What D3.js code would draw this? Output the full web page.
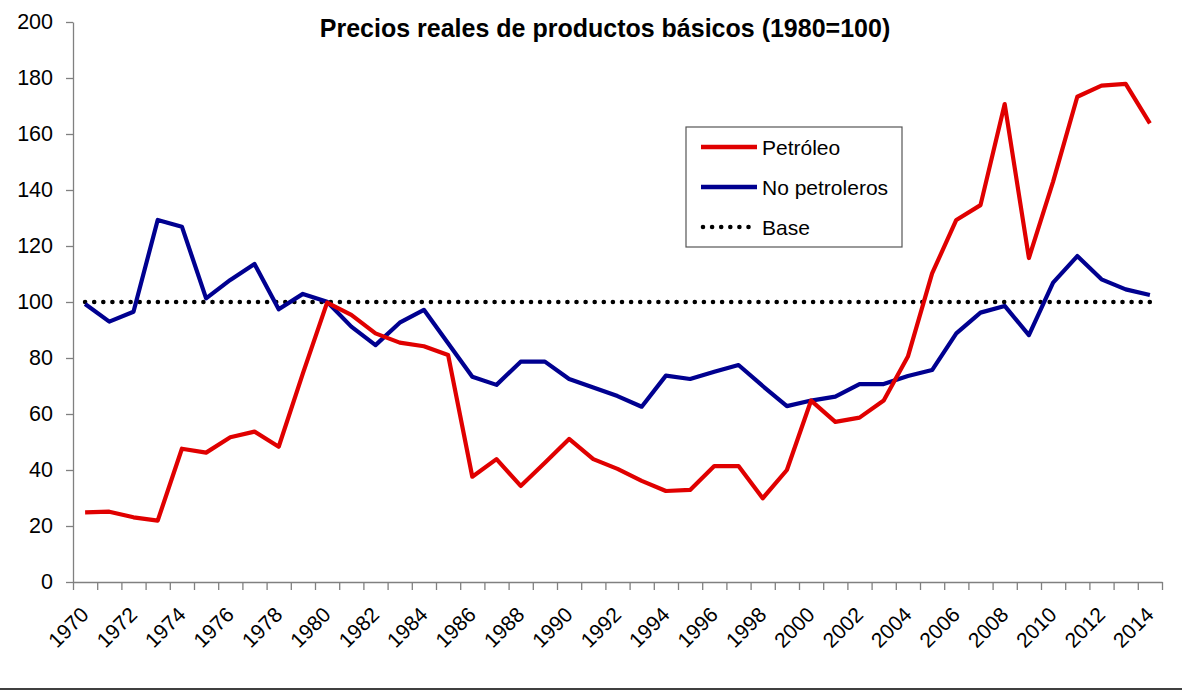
<!DOCTYPE html>
<html>
<head>
<meta charset="utf-8">
<script src="https://cdn.jsdelivr.net/npm/d3@7"></script>
<style>
  html, body { margin: 0; padding: 0; background: #fff; }
  svg { display: block; font-family: "Liberation Sans", Arial, sans-serif; }
  .axis path, .axis line { stroke: #808080; stroke-width: 1.3; }
  .axis text { fill: #000; }
</style>
</head>
<body>
<script>
const width = 1182;
const height = 691;

const years = d3.range(1970, 2015);
const petroleo = [
  24.9, 25.1, 23.1, 21.9, 47.6, 46.2, 51.7, 53.7, 48.3, 74.5,
  99.8, 95.4, 88.8, 85.5, 84.2, 81.1, 37.6, 43.9, 34.3, 42.6,
  51.1, 43.9, 40.4, 36.1, 32.5, 32.9, 41.4, 41.4, 29.9, 40.0,
  64.8, 57.2, 58.7, 64.8, 80.5, 110.2, 129.3, 134.6, 170.7, 115.7,
  143.0, 173.3, 177.3, 177.9, 163.8
];
const noPetroleros = [
  99.3, 93.0, 96.5, 129.3, 126.9, 101.3, 107.9, 113.6, 97.4, 102.9,
  100.1, 91.2, 84.6, 92.6, 97.2, 85.3, 73.3, 70.4, 78.7, 78.7,
  72.5, 69.5, 66.4, 62.6, 73.7, 72.5, 75.1, 77.5, 70.0, 62.8,
  64.8, 66.2, 70.7, 70.7, 73.6, 75.7, 88.8, 96.2, 98.6, 88.2,
  106.9, 116.4, 108.1, 104.5, 102.5
];
const baseValue = 100;
const yTicks = [0, 20, 40, 60, 80, 100, 120, 140, 160, 180, 200];
const xLabelYears = years.filter(d => d % 2 === 0);
const title = 'Precios reales de productos básicos (1980=100)';
const legendItems = [
  { name: 'Petróleo', color: '#e00000', dotted: false },
  { name: 'No petroleros', color: '#000090', dotted: false },
  { name: 'Base', color: '#000', dotted: true }
];

function init() {
  const svg = d3.select('body')
    .append('svg')
    .attr('width', width)
    .attr('height', height);

  const x = d3.scaleLinear()
    .domain([years[0] - 0.5, years[years.length - 1] + 0.5])
    .range([73, 1162]);

  const y = d3.scaleLinear()
    .domain([0, 200])
    .range([582, 22]);

  // y axis
  svg.append('g')
    .attr('class', 'axis')
    .attr('transform', `translate(${x.range()[0]},0)`)
    .call(d3.axisLeft(y).tickValues(yTicks).tickSize(7).tickPadding(13).tickSizeOuter(0))
    .call(g => g.selectAll('text').style('font-size', '21.5px'));

  // x axis, ticks sit between the years
  svg.append('g')
    .attr('class', 'axis')
    .attr('transform', `translate(0,${y(0)})`)
    .call(d3.axisBottom(x)
      .tickValues(d3.range(years.length + 1).map(i => years[0] - 0.5 + i))
      .tickSize(8)
      .tickSizeOuter(0)
      .tickFormat(''));

  svg.append('g')
    .selectAll('text')
    .data(xLabelYears)
    .join('text')
    .attr('transform', d => `translate(${x(d) + 5},${y(0) + 34}) rotate(-45)`)
    .attr('text-anchor', 'end')
    .style('font-size', '21px')
    .text(d => d);

  // base line
  svg.append('line')
    .attr('x1', x(years[0]))
    .attr('x2', x(years[years.length - 1]))
    .attr('y1', y(baseValue))
    .attr('y2', y(baseValue))
    .attr('stroke', '#000')
    .attr('stroke-width', 4.6)
    .attr('stroke-linecap', 'round')
    .attr('stroke-dasharray', '0 9.1');

  const line = d3.line()
    .x((d, i) => x(years[i]))
    .y(d => y(d));

  svg.append('path')
    .datum(noPetroleros)
    .attr('d', line)
    .attr('fill', 'none')
    .attr('stroke', legendItems[1].color)
    .attr('stroke-width', 4.2)
    .attr('stroke-linejoin', 'round');

  svg.append('path')
    .datum(petroleo)
    .attr('d', line)
    .attr('fill', 'none')
    .attr('stroke', legendItems[0].color)
    .attr('stroke-width', 4.2)
    .attr('stroke-linejoin', 'round');

  // title
  svg.append('text')
    .attr('x', 605)
    .attr('y', 37)
    .attr('text-anchor', 'middle')
    .style('font-size', '25px')
    .style('font-weight', 'bold')
    .text(title);

  // legend
  const legend = svg.append('g')
    .attr('transform', 'translate(686,127)');

  legend.append('rect')
    .attr('width', 216)
    .attr('height', 120)
    .attr('fill', '#fff')
    .attr('stroke', '#555')
    .attr('stroke-width', 1.2);

  const item = legend.selectAll('g.item')
    .data(legendItems)
    .join('g')
    .attr('class', 'item')
    .attr('transform', (d, i) => `translate(0,${20 + i * 40})`);

  item.append('line')
    .attr('x1', d => d.dotted ? 17 : 15)
    .attr('x2', d => d.dotted ? 63 : 71)
    .attr('stroke', d => d.color)
    .attr('stroke-width', d => d.dotted ? 4.6 : 4.5)
    .attr('stroke-linecap', d => d.dotted ? 'round' : 'butt')
    .attr('stroke-dasharray', d => d.dotted ? '0 9.1' : null);

  item.append('text')
    .attr('x', 76)
    .attr('y', 7.5)
    .style('font-size', '21px')
    .text(d => d.name);

  // bottom rule
  svg.append('line')
    .attr('x1', 0)
    .attr('x2', width)
    .attr('y1', 689)
    .attr('y2', 689)
    .attr('stroke', '#000')
    .attr('stroke-width', 1.5);
}

init();
</script>
</body>
</html>
